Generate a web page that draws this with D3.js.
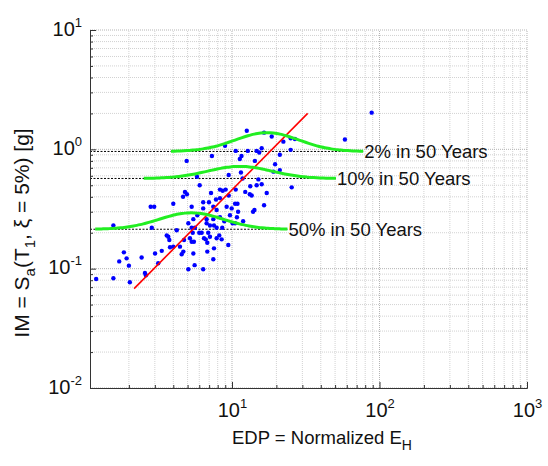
<!DOCTYPE html>
<html>
<head>
<meta charset="utf-8">
<script src="https://cdn.jsdelivr.net/npm/d3@7"></script>
<style>
  body { margin: 0; background: #fff; }
  svg { display: block; font-family: "Liberation Sans", Arial, sans-serif; }
</style>
</head>
<body>
<div id="chart"></div>
<script>
// ground motion records: EDP (normalized hysteretic energy) vs IM (Sa)
const edp = [12.6, 8.97, 10.6, 12.8, 7.31, 11.6, 11.3, 4.93, 11.5, 9.50, 11.8, 5.79, 8.29, 8.65, 9.06, 4.80, 4.95, 4.66, 6.04, 10.6,
  12.3, 7.21, 9.50, 7.79, 8.29, 13.3, 13.2, 16.5, 18.6, 22.3, 25.0, 26.7, 25.0, 15.9, 14.7, 15.3, 21.1, 14.3, 19.6, 19.1,
  21.1, 15.1, 15.9, 14.7, 25.4, 17.2, 13.6, 58.3, 88.5, 6.38, 6.98, 2.81, 2.97, 4.00, 5.33, 6.38, 7.47, 7.87, 9.20, 9.95,
  10.5, 10.9, 16.5, 13.9, 14.2, 9.69, 10.8, 11.0, 7.47, 8.29, 8.87, 11.9, 5.06, 5.47, 5.82, 6.73, 6.73, 7.09, 7.55, 7.87,
  10.1, 10.5, 1.57, 2.86, 4.22, 5.33, 5.42, 5.61, 6.00, 6.23, 6.90, 7.09, 8.20, 8.59, 3.61, 3.70, 3.76, 5.19, 6.46, 6.64,
  7.87, 8.51, 4.73, 5.33, 5.52, 6.80, 9.44, 3.80, 4.00, 4.44, 7.55, 3.34, 4.68, 4.56, 5.47, 6.80, 3.01, 1.85, 1.93, 1.72,
  2.44, 3.16, 7.47, 5.58, 2.00, 5.06, 6.38, 2.57, 2.61, 1.20, 1.57, 2.03];
const im = [1.43, 1.07, 0.97, 0.97, 0.88, 0.88, 0.83, 0.80, 0.64, 0.61, 0.57, 0.59, 0.46, 0.45, 0.46, 0.44, 0.42, 0.40, 0.50, 0.46,
  0.44, 0.43, 0.41, 0.38, 0.39, 0.49, 0.42, 1.38, 1.28, 1.16, 1.24, 1.22, 0.99, 1.02, 0.97, 0.94, 0.90, 0.80, 0.75, 0.65,
  0.67, 0.56, 0.51, 0.50, 0.48, 0.43, 0.41, 1.21, 2.03, 0.36, 0.36, 0.33, 0.33, 0.35, 0.33, 0.32, 0.33, 0.31, 0.33, 0.32,
  0.35, 0.35, 0.34, 0.30, 0.31, 0.28, 0.27, 0.30, 0.26, 0.27, 0.25, 0.25, 0.24, 0.26, 0.28, 0.26, 0.24, 0.23, 0.23, 0.22,
  0.24, 0.24, 0.23, 0.22, 0.21, 0.22, 0.20, 0.22, 0.20, 0.20, 0.20, 0.185, 0.19, 0.22, 0.19, 0.185, 0.174, 0.18, 0.18, 0.176,
  0.18, 0.176, 0.174, 0.168, 0.168, 0.165, 0.158, 0.151, 0.153, 0.153, 0.148, 0.141, 0.139, 0.132, 0.134, 0.139, 0.134, 0.137, 0.122, 0.115,
  0.124, 0.111, 0.120, 0.107, 0.106, 0.099, 0.099, 0.092, 0.088, 0.082, 0.083, 0.077];

// fitted power law (end points of the red line)
const fitEdp = [2.17, 32.6];
const fitIm = [0.068, 2.0];

// hazard levels with their EDP distributions
const hazardLabels = ["2% in 50 Years", "10% in 50 Years", "50% in 50 Years"];
const hazardIm = [0.96, 0.57, 0.214];
const hazardMedianEdp = [17.3, 11.3, 5.3];
const hazardPeakIm = [1.38, 0.72, 0.294];
const hazardBeta = [0.5, 0.5, 0.5];

// axis ticks
const xMajor = [10, 100, 1000];
const yMajor = [0.01, 0.1, 1, 10];

const width = 548, height = 466;
const margin = { top: 30, right: 21, bottom: 78, left: 90 };

const svg = d3.select("#chart").append("svg")
  .attr("width", width)
  .attr("height", height);

const x = d3.scaleLog().domain([1.09, 1000]).range([margin.left, width - margin.right]);
const y = d3.scaleLog().domain([0.01, 10]).range([height - margin.bottom, margin.top]);

const xAll = x.ticks();
const yAll = y.ticks();

// dotted grid, major lines a bit darker
const grid = svg.append("g");
grid.selectAll("line.gx")
  .data(xAll)
  .enter().append("line")
  .attr("x1", d => x(d)).attr("x2", d => x(d))
  .attr("y1", y.range()[0]).attr("y2", y.range()[1])
  .attr("stroke", d => xMajor.includes(d) ? "#b4b4b4" : "#d2d2d2")
  .attr("stroke-dasharray", "1,1");
grid.selectAll("line.gy")
  .data(yAll)
  .enter().append("line")
  .attr("y1", d => y(d)).attr("y2", d => y(d))
  .attr("x1", x.range()[0]).attr("x2", x.range()[1])
  .attr("stroke", d => yMajor.some(m => Math.abs(m - d) < 1e-9) ? "#b4b4b4" : "#d2d2d2")
  .attr("stroke-dasharray", "1,1");

// hazard curves: lognormal pdf of EDP drawn on top of each hazard level
const hazards = hazardLabels.map((label, i) => {
  const beta = hazardBeta[i];
  const base = Math.log10(hazardIm[i]);
  const amp = Math.log10(hazardPeakIm[i]) - base;
  const pts = d3.range(-3, 3.001, 0.1).map(z => [
    hazardMedianEdp[i] * Math.exp(beta * z),
    Math.pow(10, base + amp * Math.exp(-z * z / 2))
  ]);
  return { label, level: hazardIm[i], pts, end: pts[pts.length - 1][0] };
});

// dashed level lines
svg.append("g").selectAll("line")
  .data(hazards)
  .enter().append("line")
  .attr("x1", x.range()[0])
  .attr("x2", d => x(d.end))
  .attr("y1", d => y(d.level))
  .attr("y2", d => y(d.level))
  .attr("stroke", "#000")
  .attr("stroke-width", 1)
  .attr("stroke-dasharray", "2,1.5");

// scatter points
svg.append("g").selectAll("circle")
  .data(edp.map((e, i) => [e, im[i]]))
  .enter().append("circle")
  .attr("cx", d => x(d[0]))
  .attr("cy", d => y(d[1]))
  .attr("r", 2.2)
  .attr("fill", "#0000ff");

// regression line
svg.append("line")
  .attr("x1", x(fitEdp[0])).attr("y1", y(fitIm[0]))
  .attr("x2", x(fitEdp[1])).attr("y2", y(fitIm[1]))
  .attr("stroke", "#ff0000")
  .attr("stroke-width", 1.6);

const line = d3.line().x(d => x(d[0])).y(d => y(d[1])).curve(d3.curveBasis);

svg.append("g").selectAll("path")
  .data(hazards)
  .enter().append("path")
  .attr("d", d => line(d.pts))
  .attr("fill", "none")
  .attr("stroke", "#22ee22")
  .attr("stroke-width", 3);

svg.append("g").selectAll("text")
  .data(hazards)
  .enter().append("text")
  .attr("x", d => x(d.end) + 1)
  .attr("y", d => y(d.level) + 6.5)
  .style("font-size", "18.5px")
  .attr("fill", "#111")
  .text(d => d.label);

// axes: inward ticks, long for decades, short for the rest
const bottom = height - margin.bottom;
const xAxisMinor = d3.axisBottom(x)
  .tickValues(xAll.filter(d => !xMajor.includes(d)))
  .tickSizeInner(-3).tickSizeOuter(0).tickFormat("");
const xAxisMajor = d3.axisBottom(x)
  .tickValues(xMajor).tickSizeInner(-6).tickSizeOuter(0).tickFormat("");
const yAxisMinor = d3.axisLeft(y)
  .tickValues(yAll.filter(d => !yMajor.some(m => Math.abs(m - d) < 1e-9)))
  .tickSizeInner(-3).tickSizeOuter(0).tickFormat("");
const yAxisMajor = d3.axisLeft(y)
  .tickValues(yMajor).tickSizeInner(-6).tickSizeOuter(0).tickFormat("");

svg.append("g").attr("transform", `translate(0,${bottom})`).call(xAxisMinor);
const gx = svg.append("g").attr("transform", `translate(0,${bottom})`).call(xAxisMajor);
svg.append("g").attr("transform", `translate(${margin.left},0)`).call(yAxisMinor);
const gy = svg.append("g").attr("transform", `translate(${margin.left},0)`).call(yAxisMajor);

svg.selectAll(".domain").attr("stroke", "#333");
svg.selectAll(".tick line").attr("stroke", "#333");

// power-of-ten labels
gx.selectAll(".tick").each(function(d) {
  const t = d3.select(this).append("text")
    .attr("y", 29).attr("fill", "#111")
    .attr("text-anchor", "middle")
    .style("font-size", "20px");
  t.append("tspan").text("10");
  t.append("tspan").attr("dy", -9).style("font-size", "13px").text(Math.round(Math.log10(d)));
});
gy.selectAll(".tick").each(function(d) {
  const t = d3.select(this).append("text")
    .attr("x", -8).attr("y", 5).attr("fill", "#111")
    .attr("text-anchor", "end")
    .style("font-size", "20px");
  t.append("tspan").text("10");
  t.append("tspan").attr("dy", -9).style("font-size", "13px").text(Math.round(Math.log10(d)));
});

// axis titles
const xt = svg.append("text")
  .attr("x", 322)
  .attr("y", 444)
  .attr("text-anchor", "middle")
  .style("font-size", "18.5px")
  .attr("fill", "#111");
xt.append("tspan").text("EDP = Normalized E");
xt.append("tspan").attr("dy", 6).style("font-size", "14px").text("H");

const yt = svg.append("text")
  .attr("transform", "translate(29,233) rotate(-90)")
  .attr("text-anchor", "middle")
  .style("font-size", "21px")
  .attr("fill", "#111");
yt.append("tspan").text("IM = S");
yt.append("tspan").attr("dy", 6).style("font-size", "15px").text("a");
yt.append("tspan").attr("dy", -6).text("(T");
yt.append("tspan").attr("dy", 6).style("font-size", "15px").text("1");
yt.append("tspan").attr("dy", -6).text(", ξ = 5%) [g]");
</script>
</body>
</html>
